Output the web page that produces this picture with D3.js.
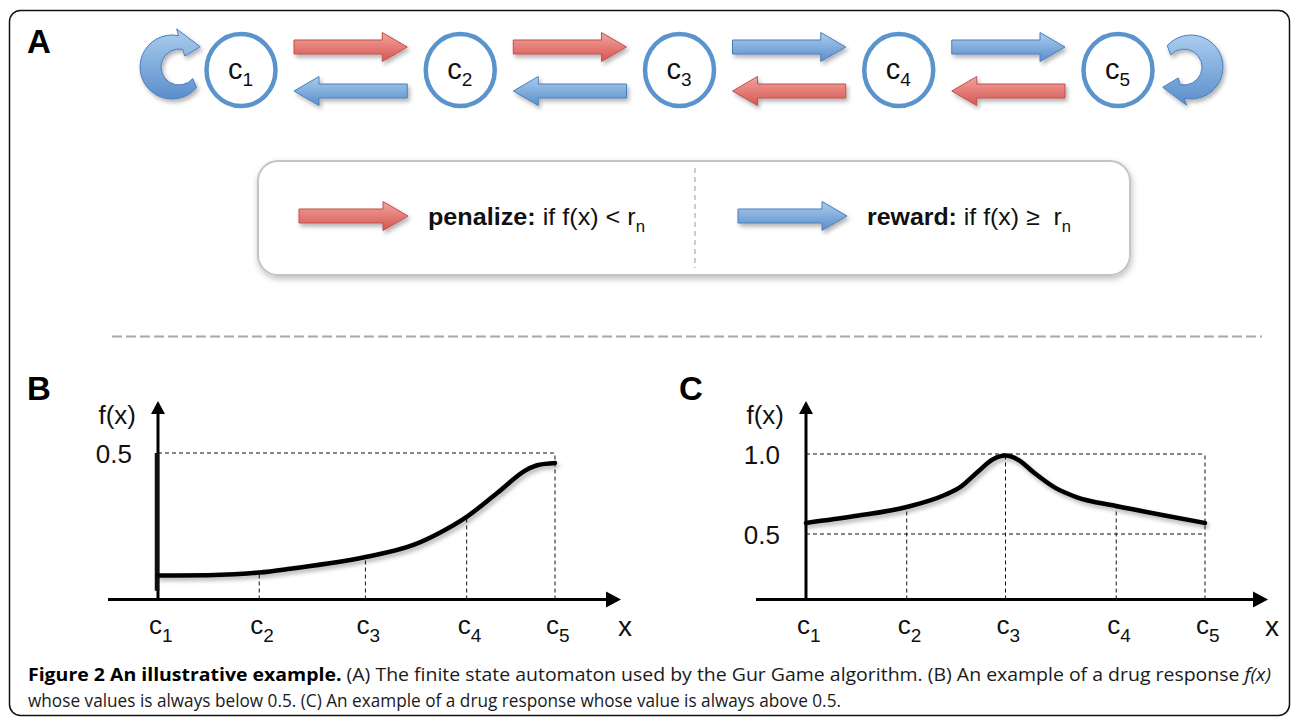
<!DOCTYPE html>
<html lang="en">
<head>
<meta charset="UTF-8">
<title>Gur Game illustrative example</title>
<style>
  body { margin: 0; background: #fff; }
  svg { display: block; }
  .narrow { font-family: "Liberation Sans Narrow", "Arial Narrow", "Liberation Sans", Arial, sans-serif; }
  .panel { font-family: "Liberation Sans", Arial, sans-serif; font-weight: bold; font-size: 33px; }
  .caption { font-family: "Open Sans", "Noto Sans", sans-serif; font-size: 18px; fill: #1a1a1a; }
</style>
<script src="https://d3js.org/d3.v7.min.js"></script>
</head>
<body>
<svg width="1293" height="718"></svg>
<script>
// ---- data ----
const states = ["1", "2", "3", "4", "5"];
const topRow = ["penalize", "penalize", "reward", "reward"];     // c_i -> c_i+1
const bottomRow = ["reward", "reward", "penalize", "penalize"];  // c_i+1 -> c_i

// panel B: response always below 0.5
const bTicks = [0, 1.02, 2.09, 3.11, 4];
const bCurveX = [0, 0.5, 1.02, 1.33, 2.09, 2.58, 2.84, 3.11, 3.42, 3.71, 3.83, 4];
const bCurveY = [0.082, 0.083, 0.092, 0.105, 0.145, 0.187, 0.228, 0.282, 0.364, 0.442, 0.459, 0.466];
const bGuide = [null, 0.092, 0.145, 0.282, 0.5];
const bLevels = [0.5];
const bLevelLabels = ["0.5"];

// panel C: response always above 0.5
const cTicks = [0, 1.01, 2.0, 3.11, 4];
const cCurveX = [0, 0.49, 1.01, 1.39, 1.55, 1.72, 1.88, 2.0, 2.13, 2.29, 2.5, 2.71, 3.11, 3.57, 4];
const cCurveY = [0.569, 0.612, 0.669, 0.744, 0.794, 0.888, 0.969, 0.99, 0.963, 0.881, 0.788, 0.731, 0.675, 0.619, 0.569];
const cGuide = [null, 0.669, 1.0, 0.675, 1.0];
const cLevels = [1.0, 0.5];
const cLevelLabels = ["1.0", "0.5"];

const colors = {
  penalize: { top: "#f3a4a0", bottom: "#d55650", stroke: "#c0504d", grad: "gRed" },
  reward:   { top: "#abcdee", bottom: "#5a8ecb", stroke: "#4a7ebb", grad: "gBlue" }
};

const svg = d3.select("svg");
const defs = svg.append("defs");

Object.values(colors).forEach(c => {
  const g = defs.append("linearGradient").attr("id", c.grad)
    .attr("x1", 0).attr("y1", 0).attr("x2", 0).attr("y2", 1);
  g.append("stop").attr("offset", "0%").attr("stop-color", c.top);
  g.append("stop").attr("offset", "100%").attr("stop-color", c.bottom);
});
defs.append("filter").attr("id", "shadow").attr("x", "-20%").attr("y", "-40%")
  .attr("width", "150%").attr("height", "200%")
  .append("feDropShadow").attr("dx", 2).attr("dy", 3).attr("stdDeviation", 2)
  .attr("flood-color", "#000").attr("flood-opacity", 0.3);
defs.append("filter").attr("id", "softShadow").attr("x", "-5%").attr("y", "-10%")
  .attr("width", "110%").attr("height", "130%")
  .append("feDropShadow").attr("dx", 1).attr("dy", 3).attr("stdDeviation", 3)
  .attr("flood-color", "#000").attr("flood-opacity", 0.25);

// outer frame
svg.append("rect")
  .attr("x", 9.5).attr("y", 10.5).attr("width", 1280).attr("height", 705)
  .attr("rx", 11).attr("fill", "none").attr("stroke", "#111").attr("stroke-width", 1.5);

// block arrow path, xa < xb, dir 1 = right, -1 = left
function blockArrow(xa, xb, yc, dir) {
  const bh = 7, hh = 14.5, hl = 25;
  const p = d3.path();
  if (dir > 0) {
    p.moveTo(xa, yc - bh); p.lineTo(xb - hl, yc - bh); p.lineTo(xb - hl, yc - hh);
    p.lineTo(xb, yc); p.lineTo(xb - hl, yc + hh); p.lineTo(xb - hl, yc + bh);
    p.lineTo(xa, yc + bh);
  } else {
    p.moveTo(xb, yc - bh); p.lineTo(xa + hl, yc - bh); p.lineTo(xa + hl, yc - hh);
    p.lineTo(xa, yc); p.lineTo(xa + hl, yc + hh); p.lineTo(xa + hl, yc + bh);
    p.lineTo(xb, yc + bh);
  }
  p.closePath();
  return p.toString();
}

// curved self-loop arrow (clockwise on screen), arrowhead at a1
function loopArrow(cx, cy, rOut, rIn, off, a0, a1) {
  const p = d3.path();
  const ix = cx + off;
  p.moveTo(cx + rOut * Math.cos(a0), cy + rOut * Math.sin(a0));
  p.arc(cx, cy, rOut, a0, a1, false);
  const ox = cx + rOut * Math.cos(a1), oy = cy + rOut * Math.sin(a1);
  const inx = ix + rIn * Math.cos(a1), iny = cy + rIn * Math.sin(a1);
  const ux = ox - inx, uy = oy - iny, ul = Math.hypot(ux, uy);
  const nx = ux / ul, ny = uy / ul;          // radial outward
  const tx = -Math.sin(a1), ty = Math.cos(a1); // tangent
  const ext = 7, hl = 20;
  const mx = (ox + inx) / 2, my = (oy + iny) / 2;
  p.lineTo(ox + nx * ext, oy + ny * ext);
  p.lineTo(mx + tx * hl, my + ty * hl);
  p.lineTo(inx - nx * ext, iny - ny * ext);
  p.lineTo(inx, iny);
  p.arc(ix, cy, rIn, a1, a0, true);
  p.closePath();
  return p.toString();
}

// ---- panel A ----
svg.append("text").attr("class", "panel").attr("x", 27).attr("y", 53).text("A");

const xA = d3.scalePoint().domain(states).range([241, 1118]);
const rowTop = 47, rowBottom = 91, cyA = 70;

const arrowsA = svg.append("g").attr("filter", "url(#shadow)");
states.slice(0, -1).forEach((s, i) => {
  const x0 = xA(s) + 37 + 16, x1 = xA(states[i + 1]) - 37 - 16;
  const ct = colors[topRow[i]], cb = colors[bottomRow[i]];
  arrowsA.append("path").attr("d", blockArrow(x0, x1, rowTop, 1))
    .attr("fill", `url(#${ct.grad})`).attr("stroke", ct.stroke).attr("stroke-width", 1);
  arrowsA.append("path").attr("d", blockArrow(x0, x1, rowBottom, -1))
    .attr("fill", `url(#${cb.grad})`).attr("stroke", cb.stroke).attr("stroke-width", 1);
});

// self loops at the two ends
const rad = d => d * Math.PI / 180;
arrowsA.append("path")
  .attr("d", loopArrow(xA(states[0]) - 69, cyA - 3, 32, 18, 7, rad(40), rad(282)))
  .attr("fill", "url(#gBlue)").attr("stroke", colors.reward.stroke).attr("stroke-width", 1);
arrowsA.append("path")
  .attr("d", loopArrow(xA(states[4]) + 73, cyA - 3, 32, 18, -7, rad(-138), rad(102)))
  .attr("fill", "url(#gBlue)").attr("stroke", colors.reward.stroke).attr("stroke-width", 1);

const nodes = svg.append("g").selectAll("g").data(states).join("g")
  .attr("transform", d => `translate(${xA(d)},${cyA})`);
nodes.append("ellipse").attr("rx", 34.5).attr("ry", 36)
  .attr("fill", "#fff").attr("stroke", "#5b93cd").attr("stroke-width", 4.5);
const nodeText = nodes.append("text").attr("class", "narrow").attr("x", -13).attr("y", 9)
  .attr("font-size", 29).attr("fill", "#111");
nodeText.append("tspan").text("c");
nodeText.append("tspan").attr("dy", 7).attr("font-size", 19).text(d => d);

// legend box
svg.append("rect").attr("x", 258).attr("y", 161).attr("width", 872).attr("height", 114)
  .attr("rx", 20).attr("fill", "#fff").attr("stroke", "#c4c4c4").attr("stroke-width", 2)
  .attr("filter", "url(#softShadow)");
svg.append("line").attr("x1", 695).attr("x2", 695).attr("y1", 168).attr("y2", 268)
  .attr("stroke", "#999").attr("stroke-width", 1).attr("stroke-dasharray", "5,4");

const legend = [
  { key: "penalize", x: 299, label: "penalize:", rule: " if f(x) < r", width: 217 },
  { key: "reward", x: 738, label: "reward:", rule: " if f(x) \u2265  r", width: 204 }
];
legend.forEach(l => {
  const c = colors[l.key];
  svg.append("path").attr("d", blockArrow(l.x, l.x + 109, 216, 1))
    .attr("fill", `url(#${c.grad})`).attr("stroke", c.stroke).attr("stroke-width", 1)
    .attr("filter", "url(#shadow)");
  const t = svg.append("text").attr("class", "narrow").attr("x", l.x + 129).attr("y", 225)
    .attr("font-size", 24).attr("fill", "#111").attr("xml:space", "preserve")
    .attr("textLength", l.width).attr("lengthAdjust", "spacingAndGlyphs");
  t.append("tspan").attr("font-weight", "bold").text(l.label);
  t.append("tspan").text(l.rule);
  t.append("tspan").attr("dy", 7).attr("font-size", 16).text("n");
});

// separator
svg.append("line").attr("x1", 112).attr("x2", 1262).attr("y1", 336.5).attr("y2", 336.5)
  .attr("stroke", "#a8a8a8").attr("stroke-width", 2).attr("stroke-dasharray", "10,4");

// ---- panels B and C ----
function drawPanel(opt) {
  const g = svg.append("g");
  g.append("text").attr("class", "panel").attr("x", opt.labelX).attr("y", 400).text(opt.name);

  const x = d3.scaleLinear().domain([0, 4]).range([opt.x0, opt.x1]);
  const y = d3.scaleLinear().domain(opt.yDomain).range(opt.yRange);
  const axisY = 599.5, axisLeft = opt.x0 - 50, axisRight = opt.arrowX;

  // guide lines
  const dash = g.append("g").attr("stroke", "#111").attr("stroke-width", 1)
    .attr("stroke-dasharray", "4,3").attr("fill", "none");
  opt.levels.forEach(v => {
    dash.append("line").attr("x1", x(0)).attr("x2", x(4))
      .attr("y1", y(v)).attr("y2", y(v));
  });
  opt.ticks.forEach((t, i) => {
    if (opt.guide[i] === null) return;
    dash.append("line").attr("x1", x(t)).attr("x2", x(t))
      .attr("y1", axisY).attr("y2", y(opt.guide[i]));
  });

  // axes
  g.append("line").attr("x1", axisLeft).attr("x2", axisRight - 12)
    .attr("y1", axisY).attr("y2", axisY).attr("stroke", "#000").attr("stroke-width", 3);
  g.append("path").attr("d", `M${axisRight},${axisY}L${axisRight - 15},${axisY - 8}L${axisRight - 15},${axisY + 8}Z`);
  g.append("line").attr("x1", x(0)).attr("x2", x(0))
    .attr("y1", axisY + 1.5).attr("y2", 412).attr("stroke", "#000").attr("stroke-width", 3);
  g.append("path").attr("d", `M${x(0)},401L${x(0) - 7},414L${x(0) + 7},414Z`);
  if (opt.thickStem) {
    g.append("line").attr("x1", x(0) - 1).attr("x2", x(0) - 1)
      .attr("y1", y(opt.thickStem[0])).attr("y2", y(opt.thickStem[1]))
      .attr("stroke", "#111").attr("stroke-width", 4.5);
  }

  // curve
  const line = d3.line().x(d => x(d[0])).y(d => y(d[1])).curve(d3.curveMonotoneX);
  g.append("path").datum(d3.zip(opt.curveX, opt.curveY))
    .attr("d", line).attr("fill", "none").attr("stroke", "#000")
    .attr("stroke-width", 4.5).attr("stroke-linecap", "round")
    .attr("filter", "url(#shadow)");

  // y labels
  const yl = g.append("g").attr("class", "narrow").attr("font-size", 26).attr("fill", "#111");
  yl.append("text").attr("x", x(0) - 22).attr("y", 424).attr("text-anchor", "end").text("f(x)");
  opt.levels.forEach((v, i) => {
    yl.append("text").attr("x", x(0) - 26).attr("y", y(v) + 10).attr("text-anchor", "end")
      .text(opt.levelLabels[i]);
  });

  // x labels
  opt.ticks.forEach((t, i) => {
    const tx = yl.append("text").attr("x", x(t) - 9).attr("y", 634);
    tx.append("tspan").text("c");
    tx.append("tspan").attr("dy", 8).attr("font-size", 19).text(states[i]);
  });
  yl.append("text").attr("x", axisRight - 3).attr("y", 636).attr("font-size", 28).text("x");
}

drawPanel({
  name: "B", labelX: 27, x0: 158, x1: 555, arrowX: 621,
  yDomain: [0, 0.5], yRange: [599.5, 453],
  ticks: bTicks, guide: bGuide, levels: bLevels, levelLabels: bLevelLabels,
  curveX: bCurveX, curveY: bCurveY, thickStem: [0.5, 0.03]
});
drawPanel({
  name: "C", labelX: 679, x0: 806, x1: 1205, arrowX: 1268,
  yDomain: [0.5, 1.0], yRange: [534, 454],
  ticks: cTicks, guide: cGuide, levels: cLevels, levelLabels: cLevelLabels,
  curveX: cCurveX, curveY: cCurveY
});

// ---- caption ----
const cap1 = svg.append("text").attr("class", "caption").attr("x", 28).attr("y", 681)
  .attr("textLength", 1243).attr("lengthAdjust", "spacingAndGlyphs");
cap1.append("tspan").attr("font-weight", "bold").attr("fill", "#000").text("Figure 2 An illustrative example.");
cap1.append("tspan").text(" (A) The finite state automaton used by the Gur Game algorithm. (B) An example of a drug response ");
cap1.append("tspan").attr("font-style", "italic").text("f(x)");
svg.append("text").attr("class", "caption").attr("x", 28).attr("y", 707)
  .attr("textLength", 813).attr("lengthAdjust", "spacingAndGlyphs")
  .text("whose values is always below 0.5. (C) An example of a drug response whose value is always above 0.5.");
</script>
</body>
</html>
